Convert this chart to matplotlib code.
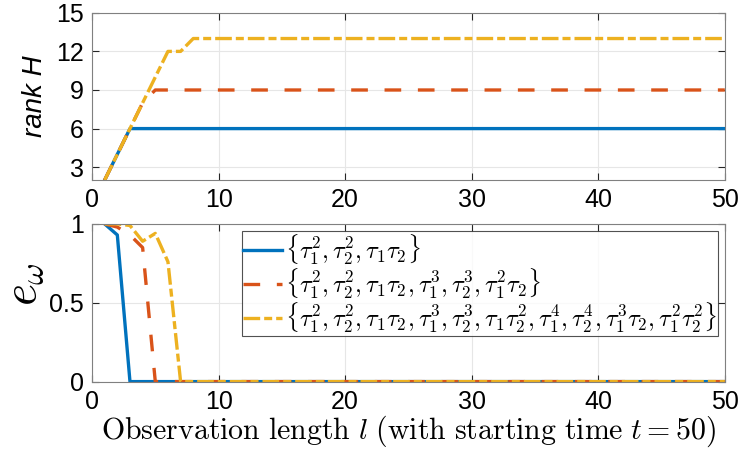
import matplotlib
matplotlib.use('Agg')
import matplotlib.pyplot as plt
import numpy as np

plt.rcParams['font.family'] = ['Liberation Sans', 'DejaVu Sans']
plt.rcParams['mathtext.fontset'] = 'cm'

l = np.arange(1, 51)

# rank H per observation length
rank1 = [2, 4] + [6] * 48
rank2 = [2, 4, 6, 8] + [9] * 46
rank3 = [2, 4, 6, 8, 10, 12, 12] + [13] * 43

# e_omega per observation length
err1 = [1.0, 0.93] + [0.0] * 48
err2 = [1.0, 0.98, 0.93, 0.85] + [0.0] * 46
err3 = [1.0, 1.0, 0.99, 0.89, 0.94, 0.76] + [0.0] * 44

labels = [r'$\{\tau_1^2, \tau_2^2, \tau_1\tau_2\}$',
          r'$\{\tau_1^2, \tau_2^2, \tau_1\tau_2, \tau_1^3, \tau_2^3, \tau_1^2\tau_2\}$',
          r'$\{\tau_1^2, \tau_2^2, \tau_1\tau_2, \tau_1^3, \tau_2^3, \tau_1\tau_2^2, \tau_1^4, \tau_2^4, \tau_1^3\tau_2, \tau_1^2\tau_2^2\}$']

xticks = [0, 10, 20, 30, 40, 50]

c1, c2, c3 = '#0072BD', '#D95319', '#EDB120'
lw = 2.4
dash2 = (0, (5, 5))
dash3 = (0, (5, 1.2, 2.4, 1.2))

fig = plt.figure(figsize=(7.48, 4.57), dpi=100)
ax1 = fig.add_axes([0.123, 0.606, 0.846, 0.366])
ax2 = fig.add_axes([0.123, 0.165, 0.846, 0.345])

ax1.plot(l, rank1, color=c1, lw=lw, ls='-')
ax1.plot(l, rank2, color=c2, lw=lw, ls=dash2)
ax1.plot(l, rank3, color=c3, lw=lw, ls=dash3)
ax1.set_xlim(0, 50)
ax1.set_ylim(2, 15)
ax1.set_yticks([3, 6, 9, 12, 15])
ax1.set_ylabel('rank H', fontsize=20, style='italic', labelpad=6)

ax2.plot(l, err1, color=c1, lw=lw, ls='-', label=labels[0])
ax2.plot(l, err2, color=c2, lw=lw, ls=dash2, label=labels[1])
ax2.plot(l, err3, color=c3, lw=lw, ls=dash3, label=labels[2])
ax2.set_xlim(0, 50)
ax2.set_ylim(0, 1)
ax2.set_yticks([0, 0.5, 1])
ax2.set_yticklabels(['0', '0.5', '1'])
ax2.set_ylabel(r'$e_\omega$', fontsize=34)
ax2.yaxis.set_label_coords(-0.072, 0.62)
ax2.set_xlabel(r'$\mathrm{Observation\ length}\ l\ \mathrm{(with\ starting\ time}\ t=50\mathrm{)}$',
               fontsize=21.5, labelpad=0)
leg = ax2.legend(loc='upper right', fontsize=17.5, frameon=True, fancybox=False,
                 handlelength=1.6, handletextpad=0.15, borderpad=0.05, labelspacing=0.0,
                 borderaxespad=0.0, bbox_to_anchor=(0.99, 0.955))
leg.get_frame().set_edgecolor('#262626')
leg.get_frame().set_linewidth(0.8)

for ax in (ax1, ax2):
    ax.set_xticks(xticks)
    ax.grid(True, color='#e6e6e6', lw=0.8)
    ax.set_axisbelow(True)
    ax.tick_params(direction='in', top=True, right=True, labelsize=18, color='#262626',
                   length=5, width=0.8, pad=6)
    for s in ax.spines.values():
        s.set_color('#808080')
        s.set_linewidth(0.8)

fig.savefig('out.png', dpi=100)
